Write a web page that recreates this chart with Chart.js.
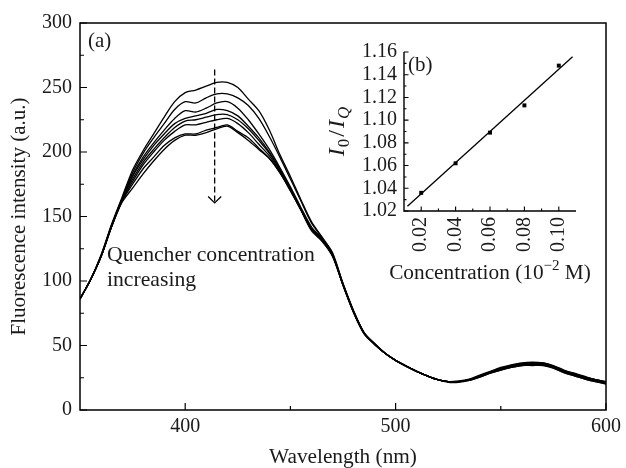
<!DOCTYPE html>
<html><head><meta charset="utf-8">
<script src="https://cdn.jsdelivr.net/npm/chart.js@4.4.0/dist/chart.umd.min.js"></script>
<style>
html,body{margin:0;padding:0;background:#fff;}
#wrap{position:relative;width:626px;height:468px;overflow:hidden;}
#main{position:absolute;left:0;top:0;}
#inset{position:absolute;left:310px;top:30px;}
</style></head><body>
<div id="wrap"><canvas id="main" width="626" height="468"></canvas><canvas id="inset" width="296" height="255"></canvas></div>
<script>
// ---------- DATA ----------
const wavelengths = [350,355,360,365,370,375,380,385,390,395,400,405,410,415,420,425,430,435,440,445,450,455,460,465,470,475,480,485,490,495,500,505,510,515,520,525,530,535,540,545,550,555,560,565,570,575,580,585,590,595,600];
const spectrum1 = [86,101,120,144,165,186,201,214,227,239,246,248,251,254,254,250,241,232,217,198,181,163,146,134,122,98,77,60,51.5,44,38.5,34,30,26.5,23.5,22,22,23.5,26,29,32,34.5,36,36.5,36.5,34,30.5,28,25.5,23.5,22];
const spectrum2 = [86,101,120,143,164,184,199,211,222,233,239,238,242,245,245,242,236,226,212,196,179,162,145,134,121,98,77,60,51.5,44,38.5,34,30,26.5,23.5,22,22,23.5,26,29,31.5,33.5,35,35.5,35.5,33,29.5,27,24.5,22.5,21];
const spectrum3 = [86,101,119,143,164,182,196,207,217,226,232,231,234,238,239,234,225,214,202,188,173,157,142,133,121,97.5,76.5,60,51,44,38.5,34,30,26.5,23.5,22,22,23.5,26.5,29.5,32.5,34.5,36,36.5,36,34,30.5,28,25.5,23.5,21.5];
const spectrum4 = [86,101,119,143,163,181,194,205,214,222,226,228,230,233,232,228,220,211,200,187,172,156,141,132,120,97,76,59.5,51,44,38.5,34,30,26.5,23.5,22,22,23,25.5,28.5,31,33,34.5,35,35,32.5,29,26.5,24,22,20.5];
const spectrum5 = [86,101,119,142,163,179,192,202,211,219,224,225,227,229,229,225,218,209,199,186,171,156,140,132,120,97,76,59.5,51,44,38.5,34,30,26.5,23.5,22,22,23.5,26,29,31.5,33.5,35,35.5,35.5,33,29.5,27,24.5,22.5,21];
const spectrum6 = [86,101,119,142,162,177,190,200,209,216,221,221,223,225,226,222,215,206,197,185,171,155,140,132,120,97,76,59.5,51,44,38.5,34,30,26.5,23.5,22,22.5,24,27,30,33,35,36.5,37,36.5,34.5,31,28.5,26,23.5,22];
const spectrum7 = [86,101,119,142,162,175,187,196,205,211,214,214,217,219,221,216,211,203,195,184,170,155,140,131,120,97,76,59.5,51,44,38.5,34,30,26.5,23.5,21.5,21.5,23,25.5,28.5,31,33,34.5,34.5,34.5,32.5,29,26.5,24,22,20];
const spectrum8 = [86,101,119,142,161,172,183,193,202,209,213,213,215,218,220,215,209,202,195,184,170,155,139,131,119,96.5,75.5,59,51,44,38.5,34,30,26.5,23.5,22,22,23.5,26,29,32,34,35.5,36,35.5,33.5,30,27.5,25,23,21.5];

const concentrations = [0.02,0.04,0.06,0.08,0.10];
const ratios = [1.036,1.062,1.089,1.113,1.148];
const fitX = [0.012,0.108];
const fitY = [1.0241,1.1559];

const mainXTickLabels = [400,500,600];
const mainYTickLabels = [0,50,100,150,200,250,300];
const mainXMinor = [450,550];
const mainYMinor = [25,75,125,175,225,275];
const insetXTickLabels = [0.02,0.04,0.06,0.08,0.10];
const insetXMinor = [0.03,0.05,0.07,0.09];
const insetYTickLabels = [1.02,1.04,1.06,1.08,1.10,1.12,1.14,1.16];
const insetYMinor = [1.03,1.05,1.07,1.09,1.11,1.13,1.15];
const arrowX = 414, arrowFrom = 264, arrowTo = 160.5;

// ---------- CHART ----------
const SERIF = "'Liberation Serif', 'Times New Roman', serif";
Chart.defaults.font.family = SERIF;
Chart.defaults.color = '#1a1a1a';

const spectra = [spectrum1,spectrum2,spectrum3,spectrum4,spectrum5,spectrum6,spectrum7,spectrum8];
const mainDatasets = spectra.map(s => ({
  data: wavelengths.map((w,i)=>({x:w,y:s[i]})),
  borderColor:'#000', borderWidth:1.3, pointRadius:0, tension:0.3, fill:false
}));

const near = (arr, v) => arr.some(a => Math.abs(a - v) < 1e-6);

const mainDecor = {
  id:'mainDecor',
  afterDraw(chart){
    const {ctx, chartArea:a, scales:{x,y}} = chart;
    ctx.save();
    ctx.strokeStyle='#000';
    ctx.lineWidth=1.5;
    ctx.strokeRect(a.left, a.top, a.right-a.left, a.bottom-a.top);
    ctx.lineWidth=1.2;
    ctx.beginPath();
    mainXTickLabels.forEach(v=>{const p=x.getPixelForValue(v); ctx.moveTo(p,a.bottom); ctx.lineTo(p,a.bottom-7);});
    mainXMinor.forEach(v=>{const p=x.getPixelForValue(v); ctx.moveTo(p,a.bottom); ctx.lineTo(p,a.bottom-4);});
    mainYTickLabels.forEach(v=>{const p=y.getPixelForValue(v); ctx.moveTo(a.left,p); ctx.lineTo(a.left+7,p);});
    mainYMinor.forEach(v=>{const p=y.getPixelForValue(v); ctx.moveTo(a.left,p); ctx.lineTo(a.left+4,p);});
    ctx.stroke();
    // dashed arrow
    const ax = x.getPixelForValue(arrowX), y1 = y.getPixelForValue(arrowFrom), y2 = y.getPixelForValue(arrowTo);
    ctx.lineWidth=1.3;
    ctx.setLineDash([6,3]);
    ctx.beginPath(); ctx.moveTo(ax,y1); ctx.lineTo(ax,y2); ctx.stroke();
    ctx.setLineDash([]);
    ctx.beginPath(); ctx.moveTo(ax-6.5,y2-6.5); ctx.lineTo(ax,y2); ctx.lineTo(ax+6.5,y2-6.5); ctx.stroke();
    // texts
    ctx.fillStyle='#1a1a1a';
    ctx.textBaseline='middle'; ctx.textAlign='left';
    ctx.font = "21px " + SERIF;
    ctx.fillText('(a)', a.left+8, a.top+18);
    ctx.font = "21.7px " + SERIF;
    ctx.fillText('Quencher concentration', 107, 255);
    ctx.fillText('increasing', 107, 280);
    ctx.restore();
  }
};

new Chart(document.getElementById('main'), {
  type:'line',
  data:{datasets:mainDatasets},
  options:{
    responsive:false, animation:false, devicePixelRatio:1,
    layout:{padding:{top:23,right:17,left:0,bottom:0}},
    plugins:{legend:{display:false}, tooltip:{enabled:false}},
    scales:{
      x:{type:'linear', min:350, max:600,
        grid:{display:false, drawTicks:false}, border:{display:false},
        ticks:{stepSize:50, autoSkip:false, maxRotation:0, padding:5, font:{size:20, lineHeight:1.2},
          callback:v => near(mainXTickLabels, v) ? String(v) : ''},
        title:{display:true, text:'Wavelength (nm)', font:{size:21.3, lineHeight:1}, padding:{top:0,bottom:0}},
        afterFit:s=>{s.height=58;}
      },
      y:{type:'linear', min:0, max:300,
        grid:{display:false, drawTicks:false}, border:{display:false},
        ticks:{stepSize:25, autoSkip:false, padding:8, font:{size:20, lineHeight:1.2},
          callback:v => near(mainYTickLabels, v) ? String(v) : ''},
        title:{display:true, text:'Fluorescence intensity (a.u.)', font:{size:21, lineHeight:1.2}, padding:{top:7,bottom:0}},
        afterFit:s=>{s.width=80;}
      }
    }
  },
  plugins:[mainDecor]
});

// ---------- INSET ----------
const insetDecor = {
  id:'insetDecor',
  afterDraw(chart){
    const {ctx, chartArea:a, scales:{x,y}} = chart;
    ctx.save();
    ctx.strokeStyle='#000';
    ctx.lineWidth=1.4;
    ctx.beginPath();
    ctx.moveTo(a.left, a.top); ctx.lineTo(a.left, a.bottom); ctx.lineTo(a.right, a.bottom);
    ctx.stroke();
    ctx.lineWidth=1.1;
    ctx.beginPath();
    insetXTickLabels.forEach(v=>{const p=x.getPixelForValue(v); ctx.moveTo(p,a.bottom); ctx.lineTo(p,a.bottom-4.5);});
    insetXMinor.forEach(v=>{const p=x.getPixelForValue(v); ctx.moveTo(p,a.bottom); ctx.lineTo(p,a.bottom-2.5);});
    insetYTickLabels.forEach(v=>{const p=y.getPixelForValue(v); ctx.moveTo(a.left,p); ctx.lineTo(a.left+4.5,p);});
    insetYMinor.forEach(v=>{const p=y.getPixelForValue(v); ctx.moveTo(a.left,p); ctx.lineTo(a.left+2.5,p);});
    ctx.stroke();
    ctx.fillStyle='#1a1a1a';
    ctx.textBaseline='middle'; ctx.textAlign='left';
    ctx.font = "21px " + SERIF;
    ctx.fillText('(b)', a.left+4, a.top+13);
    // x title with superscript
    const cx = (a.left+a.right)/2, cy = 243;
    const p1 = 'Concentration (10', p2 = '\u22122', p3 = ' M)';
    ctx.font = "21.3px " + SERIF; const w1 = ctx.measureText(p1).width, w3 = ctx.measureText(p3).width;
    ctx.font = "15px " + SERIF; const w2 = ctx.measureText(p2).width;
    let sx = cx - (w1+w2+w3)/2;
    ctx.font = "21.3px " + SERIF; ctx.fillText(p1, sx, cy); sx += w1;
    ctx.font = "15px " + SERIF; ctx.fillText(p2, sx, cy-7); sx += w2;
    ctx.font = "21.3px " + SERIF; ctx.fillText(p3, sx, cy);
    // y title I0/IQ rotated
    const parts = [
      {t:'I', f:"italic 24px "+SERIF, dy:0, g:1},
      {t:'0', f:"17px "+SERIF, dy:5, g:2},
      {t:'/', f:"24px "+SERIF, dy:0, g:2},
      {t:'I', f:"italic 24px "+SERIF, dy:0, g:1},
      {t:'Q', f:"italic 17px "+SERIF, dy:5, g:0}
    ];
    let total = 0;
    parts.forEach(p=>{ctx.font=p.f; p.w=ctx.measureText(p.t).width; total += p.w + p.g;});
    ctx.translate(26, (a.top+a.bottom)/2);
    ctx.rotate(-Math.PI/2);
    let tx = -total/2;
    ctx.textBaseline='alphabetic';
    parts.forEach(p=>{ctx.font=p.f; ctx.fillText(p.t, tx, 8+p.dy); tx += p.w + p.g;});
    ctx.restore();
  }
};

new Chart(document.getElementById('inset'), {
  type:'scatter',
  data:{datasets:[
    {data:concentrations.map((c,i)=>({x:c,y:ratios[i]})), pointStyle:'rect', pointRadius:2.8,
     backgroundColor:'#000', borderColor:'#000', borderWidth:0, showLine:false},
    {data:fitX.map((c,i)=>({x:c,y:fitY[i]})), showLine:true, pointRadius:0, borderColor:'#000', borderWidth:1.3, fill:false}
  ]},
  options:{
    responsive:false, animation:false, devicePixelRatio:1,
    layout:{padding:{top:22,right:19,left:0,bottom:0}},
    plugins:{legend:{display:false}, tooltip:{enabled:false}},
    scales:{
      x:{type:'linear', min:0.01, max:0.11,
        grid:{display:false, drawTicks:false}, border:{display:false},
        ticks:{stepSize:0.01, autoSkip:false, minRotation:90, maxRotation:90, padding:6, font:{size:20, lineHeight:1.2},
          callback:v => near(insetXTickLabels, v) ? v.toFixed(2) : ''},
        afterFit:s=>{s.height=74;}
      },
      y:{type:'linear', min:1.02, max:1.16,
        grid:{display:false, drawTicks:false}, border:{display:false},
        ticks:{stepSize:0.01, autoSkip:false, padding:7, font:{size:20, lineHeight:1.2},
          callback:v => near(insetYTickLabels, v) ? v.toFixed(2) : ''},
        afterFit:s=>{s.width=94;}
      }
    }
  },
  plugins:[insetDecor]
});
</script>
</body></html>
